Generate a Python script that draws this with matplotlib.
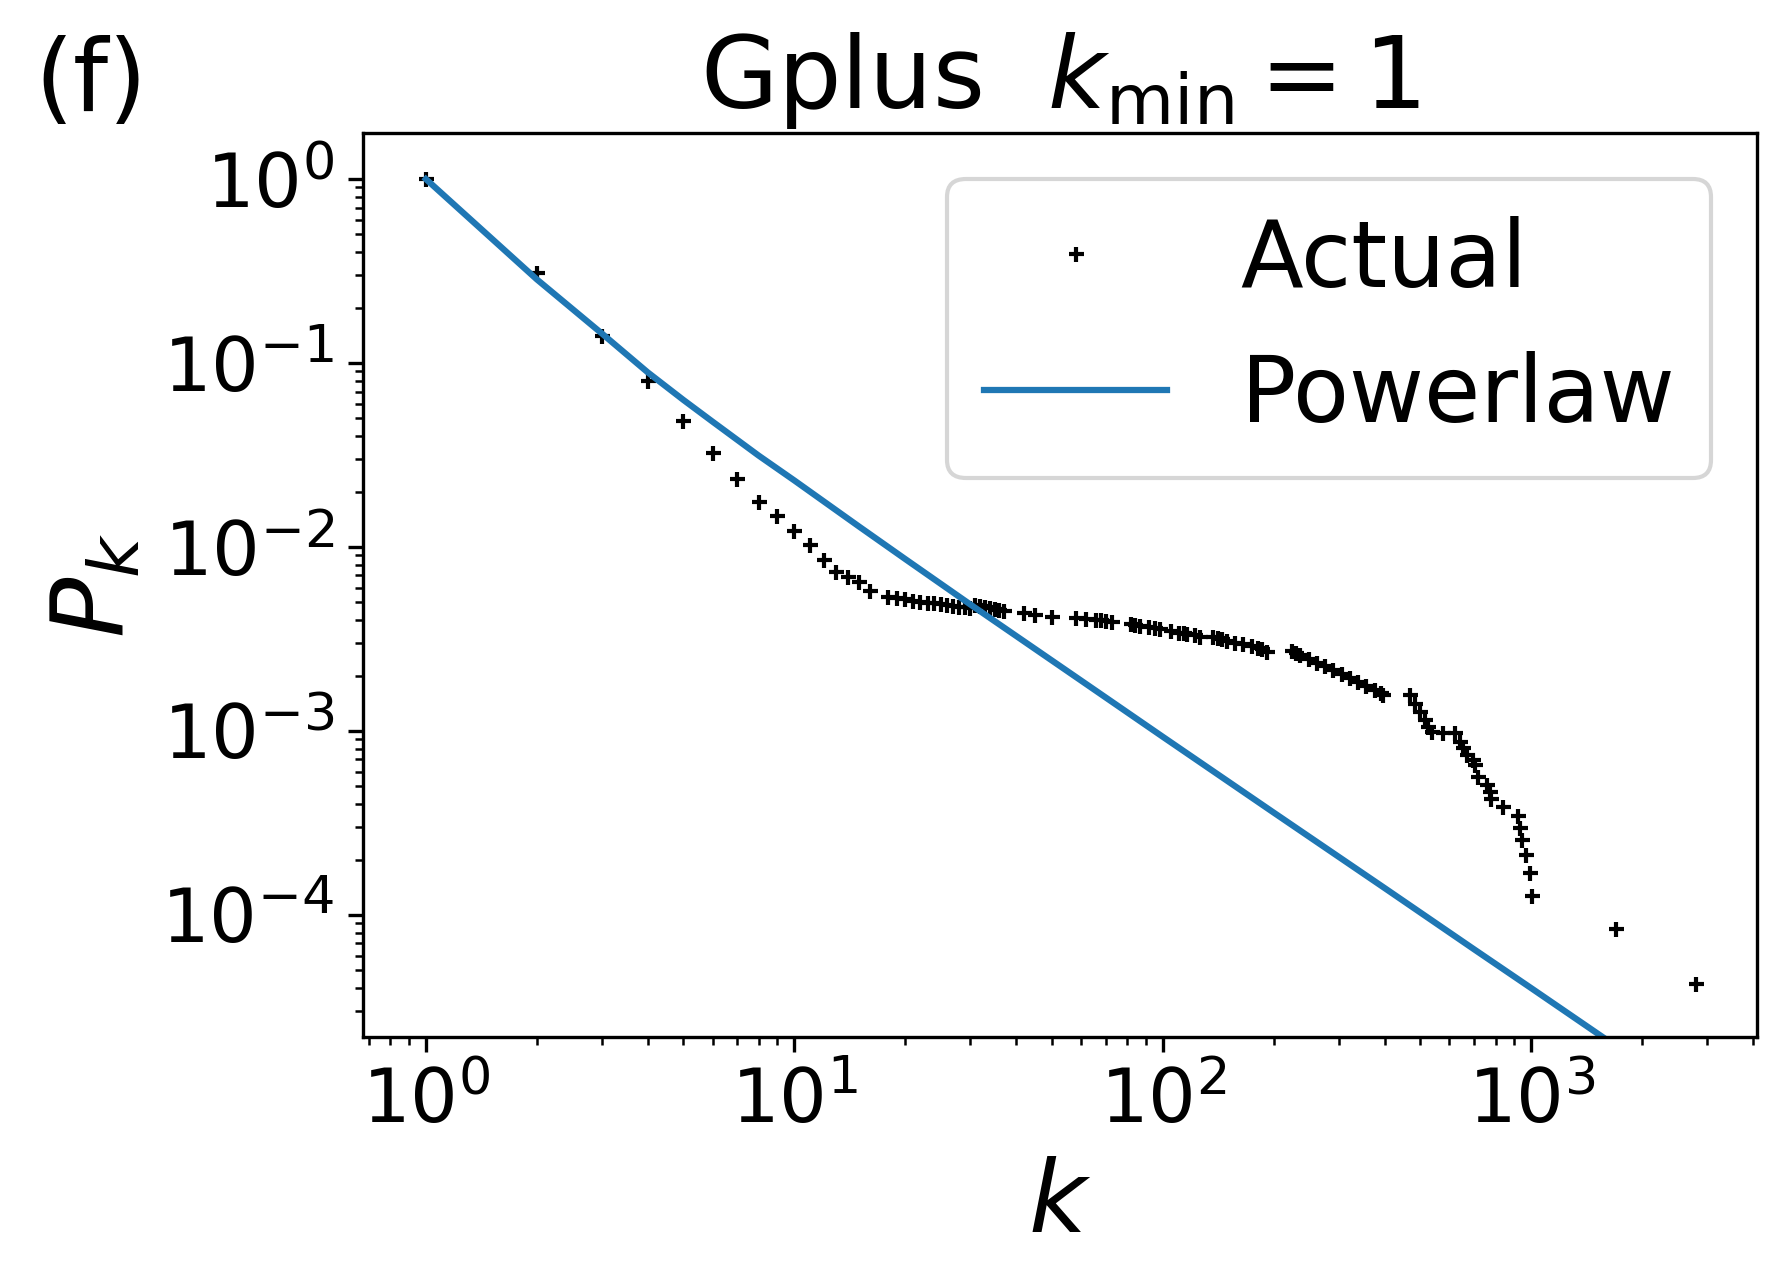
import matplotlib
matplotlib.use("Agg")
import matplotlib.pyplot as plt

k_actual = [1, 2, 3, 4, 5, 6, 7, 8, 9, 10, 11, 12, 13, 14, 15, 16,
            18, 19, 20, 21, 22, 23, 24, 25, 26, 27, 28, 29, 30,
            31, 32, 33, 34, 35, 36, 37, 42, 45, 50, 58, 62, 66,
            68, 70, 73, 82, 84, 87, 92, 95, 98, 105, 111, 114, 116, 122, 126,
            137, 141, 145, 149, 157, 165, 175, 181, 186, 192,
            224, 230, 236, 249, 262, 276, 290, 306, 322, 339, 357, 376, 390, 397,
            469, 484, 499, 515, 526, 537, 577, 621, 641, 654, 668, 697, 703, 717,
            757, 773, 780, 840, 923, 933, 943, 967, 993, 1002,
            1700, 2800]
p_actual = [1.0, 0.31, 0.140, 0.0798, 0.0486, 0.0323, 0.0233, 0.0176, 0.0148, 0.0122,
            0.0102, 0.0085, 0.00734, 0.00685, 0.00648, 0.00577,
            0.00537, 0.00526, 0.00520, 0.00511, 0.00505, 0.00498, 0.00494, 0.00490,
            0.00484, 0.00478, 0.00474, 0.00470, 0.00466,
            0.00482, 0.00476, 0.00470, 0.00465, 0.00460, 0.00455, 0.00450,
            0.00436, 0.00427, 0.00418, 0.00413, 0.00407, 0.00401,
            0.00401, 0.00398, 0.00393, 0.00382, 0.00377, 0.00374, 0.00366, 0.00362,
            0.00357, 0.00351, 0.00342, 0.00340, 0.00337, 0.00333, 0.00325,
            0.00323, 0.00319, 0.00315, 0.00310, 0.00302, 0.00296, 0.00290, 0.00284,
            0.00278, 0.00270,
            0.00272, 0.00266, 0.00259, 0.00247, 0.00235, 0.00225, 0.00215, 0.00204,
            0.00193, 0.00184, 0.00176, 0.00166, 0.00160, 0.00157,
            0.00157, 0.00141, 0.00127, 0.00115, 0.00105, 0.00099, 0.00098, 0.00097,
            0.000875, 0.000805, 0.00074, 0.000695, 0.00065, 0.000565,
            0.000509, 0.000468, 0.000426, 0.000388, 0.000345, 0.000296, 0.000256,
            0.000212, 0.000169, 0.000127,
            8.4e-5, 4.2e-5]

# Fitted power-law curve
k_fit = [1, 2, 3, 4, 5, 6, 8, 10, 15, 20, 30, 60, 100, 200, 400, 700, 1000, 1600]
p_fit = [1.0, 0.285, 0.145, 0.089, 0.063, 0.048, 0.0314, 0.0230, 0.0129, 0.0086,
         0.00488, 0.00188, 0.00093, 0.00036, 0.00014, 6.5e-5, 4.0e-5, 2.1e-5]

title_text = r"Gplus  $k_{\min} = 1$"
panel_label = "(f)"

W, H = 1788, 1285
fig = plt.figure(figsize=(W / 300, H / 300), dpi=300)
ax = fig.add_axes([363 / W, 1 - 1037 / H, 1394 / W, 904 / H])

ax.loglog(k_actual, p_actual, '+', color='black', markersize=3.6,
          markeredgewidth=1.0, label='Actual')
ax.loglog(k_fit, p_fit, '-', color='#1f77b4', linewidth=1.5, label='Powerlaw')

ax.set_xlim(0.675, 4100)
ax.set_ylim(2.17e-5, 1.78)

ax.tick_params(axis='both', which='major', labelsize=18)
ax.set_xlabel(r"$k$", fontsize=24)
ax.set_ylabel(r"$P_k$", fontsize=24)
ax.set_title(title_text, fontsize=24)
ax.legend(loc='upper right', fontsize=22)

fig.text(34 / W, 1 - 111 / H, panel_label, fontsize=24, va='baseline', ha='left')

fig.savefig("out.png", dpi=300)
